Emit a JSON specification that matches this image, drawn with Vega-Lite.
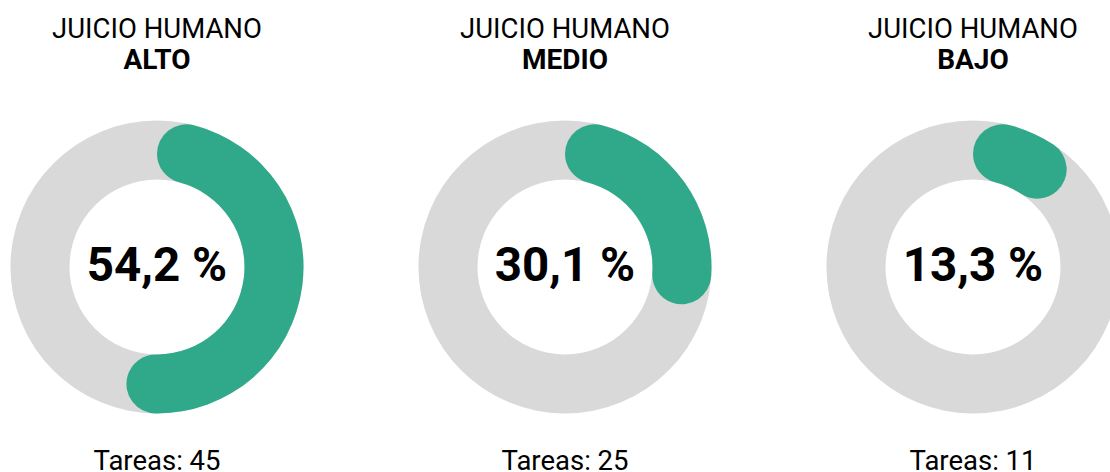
{
  "$schema": "https://vega.github.io/schema/vega-lite/v6.json",
  "padding": {"top": 15, "left": 0, "right": 0, "bottom": 0},
  "background": "white",
  "data": {"values": [
    {"nivel": "ALTO", "porcentaje": 54.2, "etiqueta": "54,2 %", "tareas": 45, "pie": "Tareas: 45"},
    {"nivel": "MEDIO", "porcentaje": 30.1, "etiqueta": "30,1 %", "tareas": 25, "pie": "Tareas: 25"},
    {"nivel": "BAJO", "porcentaje": 13.3, "etiqueta": "13,3 %", "tareas": 11, "pie": "Tareas: 11"}
  ]},
  "spacing": 94,
  "hconcat": [
    {
      "title": {"text": "JUICIO HUMANO", "subtitle": "ALTO"},
      "transform": [{"filter": {"field": "nivel", "equal": "ALTO"}}],
      "spacing": 30,
      "vconcat": [
        {"width": 314, "height": 300, "layer": [
          {"mark": {"type": "arc", "outerRadius": 146.5, "innerRadius": 87.5, "theta": 6.2832, "color": "#d9d9d9"}, "encoding": {}},
          {"mark": {"type": "arc", "outerRadius": 146.5, "innerRadius": 87.5, "cornerRadius": 29.5, "color": "#30a98a"}, "encoding": {"theta": {"field": "porcentaje", "type": "quantitative", "scale": {"domain": [0, 100]}}}},
          {"mark": {"type": "text", "fontSize": 47.5, "fontWeight": "bold", "font": "Roboto", "color": "#000000"}, "encoding": {"text": {"field": "etiqueta"}}}
        ]},
        {"width": 314, "height": 30, "mark": {"type": "text", "fontSize": 27.5, "font": "Roboto", "color": "#000000"}, "encoding": {"text": {"field": "pie"}}}
      ]
    },
    {
      "title": {"text": "JUICIO HUMANO", "subtitle": "MEDIO"},
      "transform": [{"filter": {"field": "nivel", "equal": "MEDIO"}}],
      "spacing": 30,
      "vconcat": [
        {"width": 314, "height": 300, "layer": [
          {"mark": {"type": "arc", "outerRadius": 146.5, "innerRadius": 87.5, "theta": 6.2832, "color": "#d9d9d9"}, "encoding": {}},
          {"mark": {"type": "arc", "outerRadius": 146.5, "innerRadius": 87.5, "cornerRadius": 29.5, "color": "#30a98a"}, "encoding": {"theta": {"field": "porcentaje", "type": "quantitative", "scale": {"domain": [0, 100]}}}},
          {"mark": {"type": "text", "fontSize": 47.5, "fontWeight": "bold", "font": "Roboto", "color": "#000000"}, "encoding": {"text": {"field": "etiqueta"}}}
        ]},
        {"width": 314, "height": 30, "mark": {"type": "text", "fontSize": 27.5, "font": "Roboto", "color": "#000000"}, "encoding": {"text": {"field": "pie"}}}
      ]
    },
    {
      "title": {"text": "JUICIO HUMANO", "subtitle": "BAJO"},
      "transform": [{"filter": {"field": "nivel", "equal": "BAJO"}}],
      "spacing": 30,
      "vconcat": [
        {"width": 314, "height": 300, "layer": [
          {"mark": {"type": "arc", "outerRadius": 146.5, "innerRadius": 87.5, "theta": 6.2832, "color": "#d9d9d9"}, "encoding": {}},
          {"mark": {"type": "arc", "outerRadius": 146.5, "innerRadius": 87.5, "cornerRadius": 29.5, "color": "#30a98a"}, "encoding": {"theta": {"field": "porcentaje", "type": "quantitative", "scale": {"domain": [0, 100]}}}},
          {"mark": {"type": "text", "fontSize": 47.5, "fontWeight": "bold", "font": "Roboto", "color": "#000000"}, "encoding": {"text": {"field": "etiqueta"}}}
        ]},
        {"width": 314, "height": 30, "mark": {"type": "text", "fontSize": 27.5, "font": "Roboto", "color": "#000000"}, "encoding": {"text": {"field": "pie"}}}
      ]
    }
  ],
  "config": {
    "view": {"stroke": null},
    "font": "Roboto",
    "title": {
      "font": "Roboto", "fontSize": 27.5, "fontWeight": "normal", "color": "#000000",
      "subtitleFont": "Roboto", "subtitleFontSize": 28, "subtitleFontWeight": "bold", "subtitleColor": "#000000",
      "anchor": "middle", "offset": 42, "subtitlePadding": 4
    }
  }
}
